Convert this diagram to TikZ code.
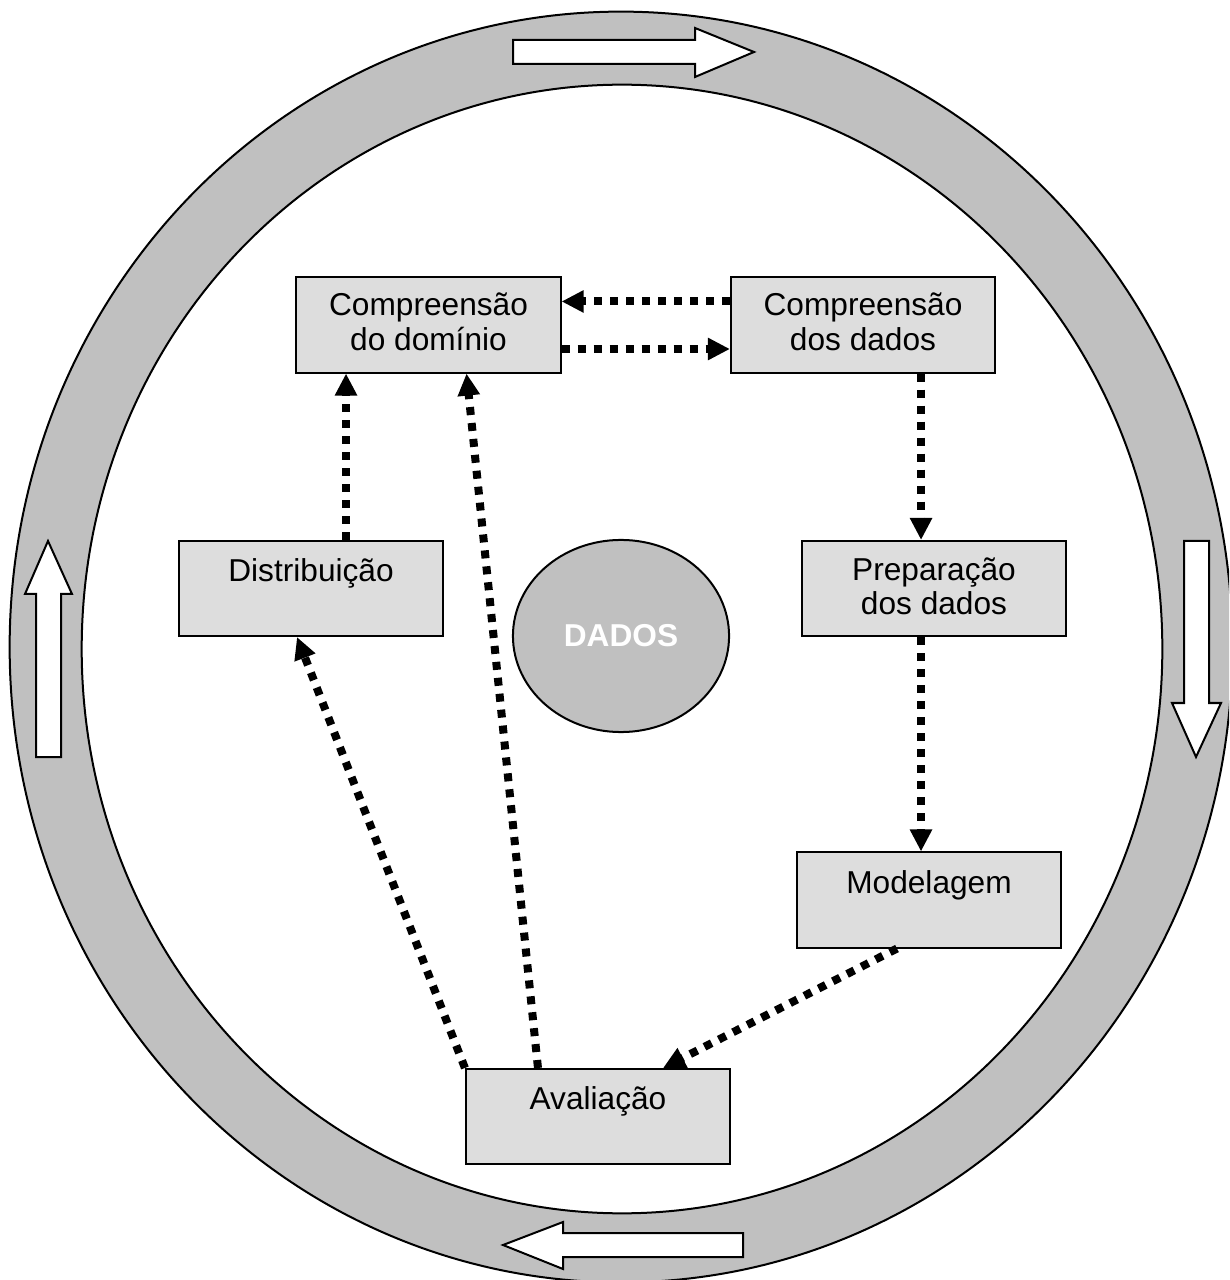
\documentclass[tikz,border=0pt]{standalone}
\usepackage{fontspec}
\setmainfont{Liberation Sans}
\usetikzlibrary{positioning,arrows.meta,shapes.geometric}
\definecolor{ringgray}{HTML}{C0C0C0}
\definecolor{boxgray}{HTML}{DDDDDD}
\tikzset{stage/.style={draw, fill=boxgray, line width=0.02cm,
        minimum width=2.64cm, minimum height=0.95cm, inner sep=0pt},
    stagetext/.style={align=center, inner sep=0pt,
        font=\fontsize{9}{9.8}\selectfont},
    flow/.style={line width=0.08cm, dash pattern=on 0.08cm off 0.08cm,
        -{Triangle[length=0.22cm,width=0.21cm]}},
    bigarrow/.style={draw, fill=white, line width=0.02cm, line join=miter},
    }
\begin{document}
\begin{tikzpicture}[x=0.01cm,y=-0.01cm]
\useasboundingbox (0,0) rectangle (1229,1280);
\clip (0,0) rectangle (1229,1280);
% anel externo
\fill[ringgray, even odd rule] (621,647) ellipse [x radius=6.11cm, y radius=6.35cm]
    (622,649) ellipse [x radius=5.40cm, y radius=5.64cm];
\draw[line width=0.02cm] (621,647) ellipse [x radius=6.11cm, y radius=6.35cm];
\draw[line width=0.02cm] (622,649) ellipse [x radius=5.40cm, y radius=5.64cm];
% setas do ciclo
\draw[bigarrow] (513,40) -- (695,40) -- (695,28) -- (754,52) -- (695,77) -- (695,64) -- (513,64) -- cycle;
\draw[bigarrow] (1184,541) -- (1209,541) -- (1209,703) -- (1221,703) -- (1196,757) -- (1172,703) -- (1184,703) -- cycle;
\draw[bigarrow] (743,1233) -- (563,1233) -- (563,1222) -- (503,1245) -- (563,1269) -- (563,1257) -- (743,1257) -- cycle;
\draw[bigarrow] (36,757) -- (36,594) -- (25,594) -- (48,541) -- (72,594) -- (61,594) -- (61,757) -- cycle;
% etapas
\node[stage] (dom) at (428.5,325) {};
\node[stage] (dados) at (863,325) {};
\node[stage] (dist) at (311,588.5) {};
\node[stage] (prep) at (934,588.5) {};
\node[stage] (model) at (929,900) {};
\node[stage] (aval) at (598,1116.5) {};
\node[stagetext, below=0.16cm of dom.north] (domtxt) {Compreensão\\do domínio};
\node[stagetext, below=0.16cm of dados.north] (dadostxt) {Compreensão\\dos dados};
\node[stagetext, below=0.18cm of dist.north] (disttxt) {Distribuição};
\node[stagetext, below=0.17cm of prep.north] (preptxt) {Preparação\\dos dados};
\node[stagetext, below=0.18cm of model.north] (modeltxt) {Modelagem};
\node[stagetext, below=0.18cm of aval.north] (avaltxt) {Avaliação};
% centro
\node[ellipse, draw, fill=ringgray, line width=0.02cm, minimum width=2.16cm,
    minimum height=1.92cm, inner sep=0pt, text=white,
    font=\fontsize{9}{9.8}\selectfont\bfseries] (centro) at (621,636) {DADOS};
% fluxos
\draw[flow] ([yshift=0.235cm]dados.west) -- ([yshift=0.235cm]dom.east);
\draw[flow] ([yshift=-0.24cm]dom.east) -- ([yshift=-0.24cm]dados.west);
\draw[flow] ([xshift=0.58cm]dados.south) -- ([xshift=0.58cm]dados.south |- prep.north);
\draw[flow] ([xshift=-0.13cm]prep.south) -- ([xshift=-0.13cm]prep.south |- model.north);
\draw[flow] ([xshift=-0.32cm]model.south) -- ([xshift=0.65cm]aval.north);
\draw[flow] (aval.north west) -- ([xshift=-0.14cm]dist.south);
\draw[flow] ([xshift=-0.60cm]aval.north) -- ([xshift=0.38cm]dom.south);
\draw[flow] ([xshift=0.35cm]dist.north) -- ([xshift=0.35cm]dist.north |- dom.south);
\end{tikzpicture}
\end{document}
